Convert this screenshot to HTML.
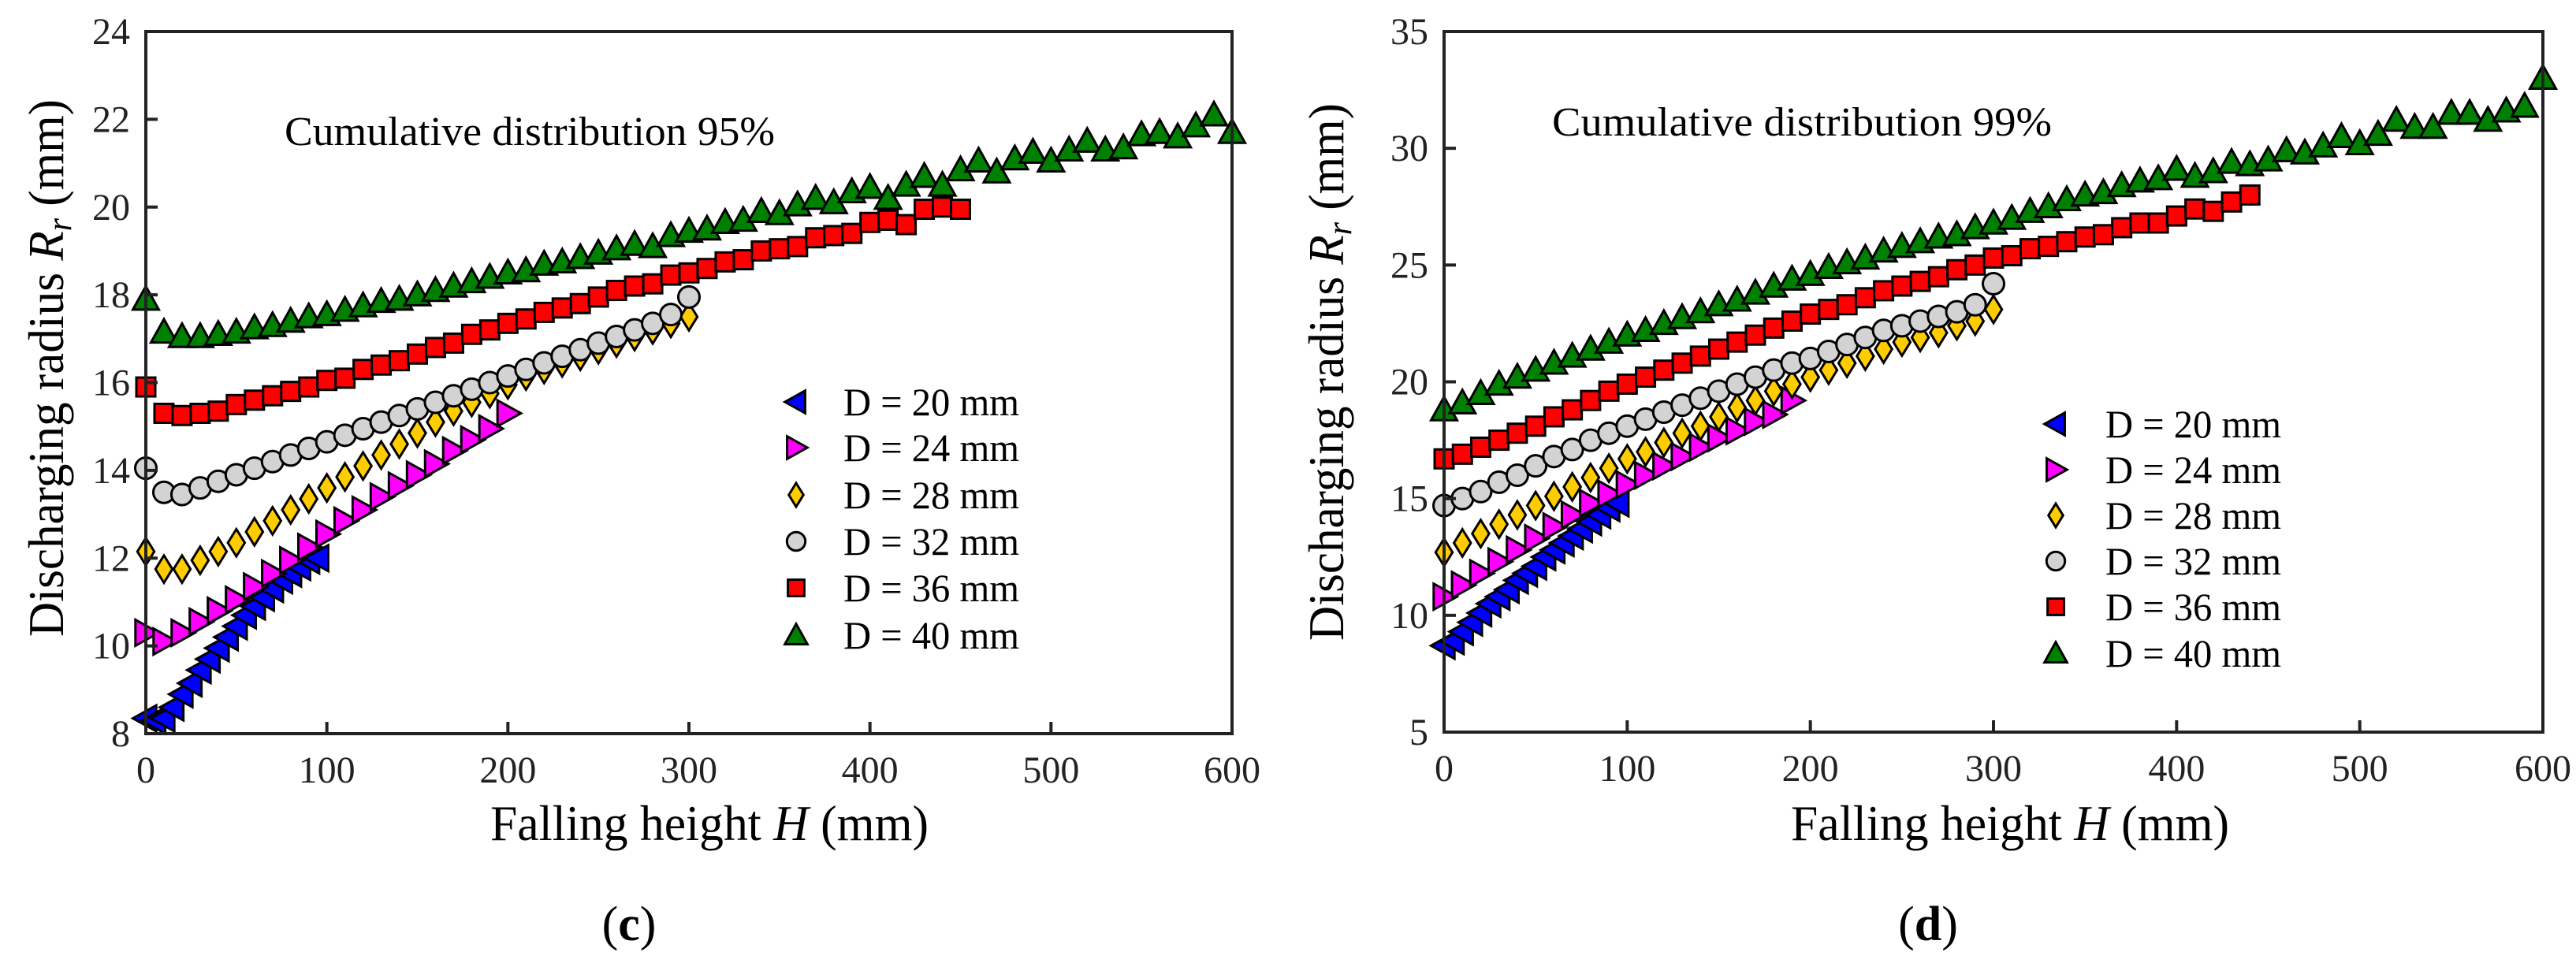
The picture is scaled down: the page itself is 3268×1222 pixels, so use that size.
<!DOCTYPE html>
<html><head><meta charset="utf-8"><style>
html,body{margin:0;padding:0;background:#fff;}
svg{display:block;font-family:"Liberation Serif",serif;}
</style></head><body>
<svg id="fig" width="3268" height="1222" viewBox="0 0 3268 1222" xmlns="http://www.w3.org/2000/svg"></svg>
<script>
// ---------- data: panel (c) 95% ----------
const hC20 = [0,5,10,15,20,25,30,35,40,45,50,55,60,65,70,75,80,85,90,95];
const rC20 = [8.35,8.3,8.35,8.6,8.9,9.15,9.45,9.7,9.95,10.2,10.45,10.7,10.9,11.1,11.3,11.5,11.65,11.8,11.95,12.0];
const hC24 = [0,10,20,30,40,50,60,70,80,90,100,110,120,130,140,150,160,170,180,190,200];
const rC24 = [10.3,10.1,10.3,10.55,10.8,11.05,11.35,11.65,11.95,12.25,12.55,12.85,13.1,13.4,13.65,13.9,14.15,14.45,14.7,14.95,15.3];
const hC28 = [0,10,20,30,40,50,60,70,80,90,100,110,120,130,140,150,160,170,180,190,200,210,220,230,240,250,260,270,280,290,300];
const rC28 = [12.15,11.75,11.75,11.95,12.15,12.35,12.6,12.85,13.1,13.35,13.6,13.85,14.1,14.35,14.6,14.85,15.1,15.35,15.55,15.75,15.95,16.15,16.3,16.45,16.6,16.75,16.9,17.05,17.2,17.35,17.5];
const hC32 = [0,10,20,30,40,50,60,70,80,90,100,110,120,130,140,150,160,170,180,190,200,210,220,230,240,250,260,270,280,290,300];
const rC32 = [14.05,13.5,13.45,13.6,13.75,13.9,14.05,14.2,14.35,14.5,14.65,14.8,14.95,15.1,15.25,15.4,15.55,15.7,15.85,16.0,16.15,16.3,16.45,16.6,16.75,16.9,17.05,17.2,17.35,17.55,17.95];
const hC36 = [0,10,20,30,40,50,60,70,80,90,100,110,120,130,140,150,160,170,180,190,200,210,220,230,240,250,260,270,280,290,300,310,320,330,340,350,360,370,380,390,400,410,420,430,440,450];
const rC36 = [15.9,15.3,15.25,15.3,15.35,15.5,15.6,15.7,15.8,15.9,16.05,16.1,16.3,16.4,16.5,16.65,16.8,16.9,17.1,17.2,17.35,17.45,17.6,17.7,17.8,17.95,18.1,18.2,18.25,18.45,18.5,18.6,18.75,18.8,19.0,19.05,19.1,19.3,19.35,19.4,19.65,19.7,19.6,19.95,20.0,19.95];
const hC40 = [0,10,20,30,40,50,60,70,80,90,100,110,120,130,140,150,160,170,180,190,200,210,220,230,240,250,260,270,280,290,300,310,320,330,340,350,360,370,380,390,400,410,420,430,440,450,460,470,480,490,500,510,520,530,540,550,560,570,580,590,600];
const rC40 = [17.9,17.15,17.05,17.05,17.1,17.15,17.25,17.3,17.4,17.5,17.55,17.65,17.75,17.85,17.9,18.0,18.1,18.2,18.3,18.4,18.5,18.55,18.7,18.75,18.85,18.95,19.05,19.15,19.1,19.35,19.45,19.5,19.65,19.7,19.9,19.85,20.05,20.2,20.1,20.35,20.45,20.2,20.5,20.7,20.5,20.85,21.05,20.8,21.1,21.25,21.05,21.3,21.5,21.3,21.35,21.65,21.7,21.6,21.85,22.1,21.7];
// ---------- data: panel (d) 99% ----------
const hD20 = [0,5,10,15,20,25,30,35,40,45,50,55,60,65,70,75,80,85,90,95];
const rD20 = [8.7,8.9,9.3,9.7,10.1,10.5,10.8,11.1,11.5,11.8,12.1,12.5,12.8,13.1,13.4,13.7,14.0,14.3,14.6,14.8];
const hD24 = [0,10,20,30,40,50,60,70,80,90,100,110,120,130,140,150,160,170,180,190];
const rD24 = [10.8,11.3,11.8,12.3,12.8,13.3,13.8,14.3,14.8,15.2,15.6,16.0,16.4,16.8,17.2,17.6,17.9,18.3,18.6,19.2];
const hD28 = [0,10,20,30,40,50,60,70,80,90,100,110,120,130,140,150,160,170,180,190,200,210,220,230,240,250,260,270,280,290,300];
const rD28 = [12.7,13.1,13.5,13.9,14.3,14.7,15.1,15.5,15.9,16.3,16.7,17.0,17.4,17.8,18.1,18.5,18.9,19.2,19.6,19.9,20.2,20.5,20.8,21.1,21.4,21.7,21.9,22.1,22.4,22.6,23.1];
const hD32 = [0,10,20,30,40,50,60,70,80,90,100,110,120,130,140,150,160,170,180,190,200,210,220,230,240,250,260,270,280,290,300];
const rD32 = [14.7,15.0,15.3,15.7,16.0,16.4,16.8,17.1,17.5,17.8,18.1,18.4,18.7,19.0,19.3,19.6,19.9,20.2,20.5,20.8,21.0,21.3,21.6,21.9,22.2,22.4,22.6,22.8,23.0,23.3,24.2];
const hD36 = [0,10,20,30,40,50,60,70,80,90,100,110,120,130,140,150,160,170,180,190,200,210,220,230,240,250,260,270,280,290,300,310,320,330,340,350,360,370,380,390,400,410,420,430,440];
const rD36 = [16.7,16.9,17.2,17.5,17.8,18.1,18.5,18.8,19.2,19.6,19.9,20.2,20.5,20.8,21.1,21.4,21.7,22.0,22.3,22.6,22.9,23.1,23.3,23.6,23.9,24.1,24.3,24.5,24.8,25.0,25.3,25.4,25.7,25.8,26.0,26.2,26.3,26.6,26.8,26.8,27.1,27.4,27.3,27.7,28.0];
const hD40 = [0,10,20,30,40,50,60,70,80,90,100,110,120,130,140,150,160,170,180,190,200,210,220,230,240,250,260,270,280,290,300,310,320,330,340,350,360,370,380,390,400,410,420,430,440,450,460,470,480,490,500,510,520,530,540,550,560,570,580,590,600];
const rD40 = [18.8,19.1,19.5,19.9,20.2,20.5,20.8,21.1,21.4,21.7,22.0,22.2,22.5,22.75,23.0,23.3,23.5,23.8,24.1,24.4,24.6,24.9,25.1,25.3,25.6,25.8,26.0,26.2,26.3,26.6,26.8,27.0,27.3,27.5,27.8,28.0,28.1,28.4,28.6,28.7,29.1,28.8,29.0,29.4,29.3,29.5,29.9,29.8,30.1,30.5,30.2,30.6,31.2,30.9,30.9,31.5,31.5,31.2,31.6,31.8,33.0];
const xTicks = [0,100,200,300,400,500,600];
const yTicksC = [8,10,12,14,16,18,20,22,24];
const yTicksD = [5,10,15,20,25,30,35];
const legendLabels = ["D = 20 mm","D = 24 mm","D = 28 mm","D = 32 mm","D = 36 mm","D = 40 mm"];

const NS = "http://www.w3.org/2000/svg";
const svg = document.getElementById('fig');
function mk(tag, attrs, parent){
  const e = document.createElementNS(NS, tag);
  for (const k in attrs) e.setAttribute(k, attrs[k]);
  (parent||svg).appendChild(e);
  return e;
}
const shapes = ['left','right','diamond','circle','square','up'];
const colors = ['#0000ff','#ff00ff','#ffcc00','#d3d3d3','#ff0000','#008000'];
function marker(g, shape, cx, cy, col, s){
  const st = {fill:col, stroke:'#000', 'stroke-width':3, 'stroke-linejoin':'miter'};
  let e;
  if (shape==='circle') e = mk('circle', Object.assign({cx:cx, cy:cy, r:s*0.45}, st), g);
  else if (shape==='square') e = mk('rect', Object.assign({x:cx-s*0.4, y:cy-s*0.4, width:s*0.8, height:s*0.8}, st), g);
  else {
    let p;
    const h = s*0.55;
    if (shape==='up') p = [[cx,cy-h],[cx+h,cy+h*0.8],[cx-h,cy+h*0.8]];
    else if (shape==='left') p = [[cx-h,cy],[cx+h*0.8,cy-h],[cx+h*0.8,cy+h]];
    else if (shape==='right') p = [[cx+h,cy],[cx-h*0.8,cy-h],[cx-h*0.8,cy+h]];
    else p = [[cx,cy-h*1.05],[cx+h*0.65,cy],[cx,cy+h*1.05],[cx-h*0.65,cy]];
    e = mk('polygon', Object.assign({points:p.map(q=>q.join(',')).join(' ')}, st), g);
  }
  return e;
}

function panel(cfg){
  const g = mk('g', {});
  
  
  const X = v => cfg.x0 + (v-0)/600*(cfg.x1-cfg.x0);
  const Y = v => cfg.yb - (v-cfg.ymin)/(cfg.ymax-cfg.ymin)*(cfg.yb-cfg.yt);
  cfg.series.forEach((s, i) => {
    const sg = mk('g', {}, g);
    
    
    s.h.forEach((h, j) => {
      const m = marker(sg, shapes[i], X(h), Y(s.r[j]), colors[i], 30);
      
      
    });
  });
  const fr = mk('rect', {x:cfg.x0, y:cfg.yt, width:cfg.x1-cfg.x0, height:cfg.yb-cfg.yt, fill:'none', stroke:'#222', 'stroke-width':4}, g);
  
  
  xTicks.forEach(t => {
    mk('line', {x1:X(t), x2:X(t), y1:cfg.yb, y2:cfg.yb-15, stroke:'#222', 'stroke-width':4}, g);
    const tl = mk('text', {x:X(t), y:cfg.yb+62, 'font-size':48, 'text-anchor':'middle', fill:'#222'}, g);
    tl.textContent = t;
    
    
  });
  cfg.yTicks.forEach(t => {
    mk('line', {x1:cfg.x0, x2:cfg.x0+15, y1:Y(t), y2:Y(t), stroke:'#222', 'stroke-width':4}, g);
    const tl = mk('text', {x:cfg.x0-20, y:Y(t)+16, 'font-size':48, 'text-anchor':'end', fill:'#222'}, g);
    tl.textContent = t;
    
    
  });
  const an = mk('text', {x:cfg.annX, y:cfg.annY+17, 'font-size':52, textLength:cfg.annW, lengthAdjust:'spacingAndGlyphs', fill:'#000'}, g);
  an.textContent = cfg.ann;
  
  
  const lg = mk('g', {}, g);
  
  
  cfg.legY.forEach((ly, i) => {
    const m = marker(lg, shapes[i], cfg.legMX, ly, colors[i], 26);
    
    
    const t = mk('text', {x:cfg.legTX, y:ly+17, 'font-size':50, textLength:223, lengthAdjust:'spacingAndGlyphs', fill:'#000'}, lg);
    t.textContent = legendLabels[i];
    
    
  });
  const xt = mk('text', {x:cfg.xtX, y:cfg.xtY, 'font-size':64, 'text-anchor':'middle', textLength:556, lengthAdjust:'spacingAndGlyphs', fill:'#000'}, g);
  xt.innerHTML = 'Falling height <tspan font-style="italic">H</tspan> (mm)';
  
  
  const yt = mk('text', {x:0, y:0, 'font-size':64, 'text-anchor':'middle', textLength:682, lengthAdjust:'spacingAndGlyphs', fill:'#000', transform:`translate(${cfg.ytX},${cfg.ytY}) rotate(-90)`}, g);
  yt.innerHTML = 'Discharging radius <tspan font-style="italic">R</tspan><tspan font-style="italic" font-size="44" dy="10">r</tspan><tspan dy="-10"> (mm)</tspan>';
  
  
  const pl = mk('text', {x:cfg.plX, y:1193, 'font-size':62, 'text-anchor':'middle', fill:'#000'}, g);
  pl.innerHTML = '(<tspan font-weight="bold">' + cfg.letter + '</tspan>)';
  
  
}

panel({name:'chart-c-95-percent', x0:185, x1:1563, yt:40, yb:931, ymin:8, ymax:24, yTicks:yTicksC,
  series:[{h:hC20,r:rC20},{h:hC24,r:rC24},{h:hC28,r:rC28},{h:hC32,r:rC32},{h:hC36,r:rC36},{h:hC40,r:rC40}],
  ann:'Cumulative distribution 95%', annX:361, annY:167, annW:622,
  legMX:1010, legTX:1070, legY:[510,568,628,687,746,806],
  xtX:900, xtY:1066, ytX:80, ytY:467, plX:798, letter:'c'});
panel({name:'chart-d-99-percent', x0:1832, x1:3226, yt:40, yb:929, ymin:5, ymax:35, yTicks:yTicksD,
  series:[{h:hD20,r:rD20},{h:hD24,r:rD24},{h:hD28,r:rD28},{h:hD32,r:rD32},{h:hD36,r:rD36},{h:hD40,r:rD40}],
  ann:'Cumulative distribution 99%', annX:1969, annY:155, annW:634,
  legMX:2608, legTX:2671, legY:[538,596,654,712,770,829],
  xtX:2550, xtY:1066, ytX:1704, ytY:472, plX:2446, letter:'d'});
</script>
</body></html>
